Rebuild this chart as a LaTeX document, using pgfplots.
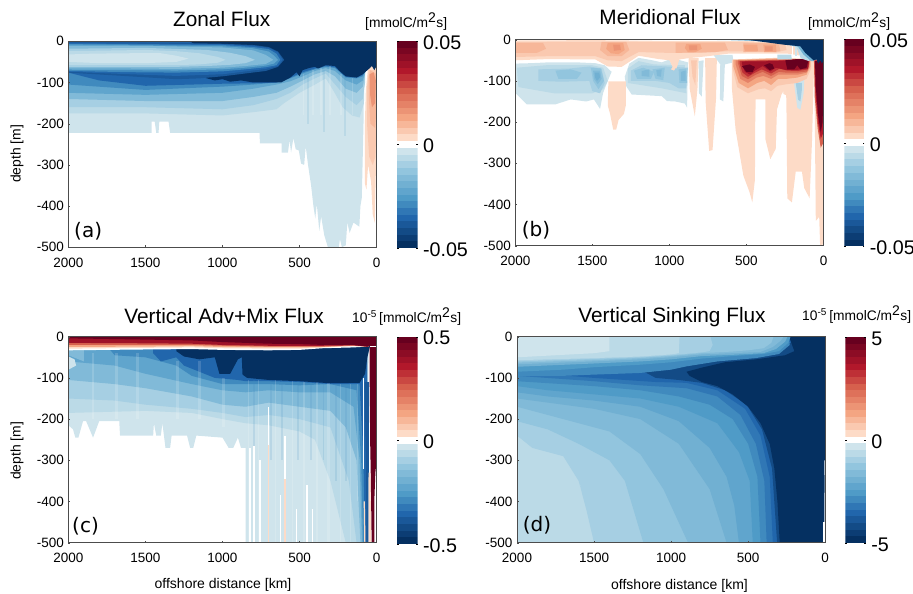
\documentclass[border=0pt]{standalone}
\usepackage{pgfplots}
\pgfplotsset{compat=1.18}
\usepackage{fontspec}
\usepackage{amstext}
\setmainfont{Liberation Sans}
\newfontfamily\dvfont{DejaVu Sans}
\definecolor{B1}{HTML}{CFE4EC}\definecolor{B4}{HTML}{92C5DE}\definecolor{B8}{HTML}{4F9BC7}\definecolor{B11}{HTML}{2166AC}\definecolor{B15}{HTML}{053061}
\definecolor{R1}{HTML}{FDDBC7}\definecolor{R4}{HTML}{F4A582}\definecolor{R8}{HTML}{D6604D}\definecolor{R11}{HTML}{B2182B}\definecolor{R15}{HTML}{67001F}
\colorlet{b1}{B1}\colorlet{b2}{B1!67!B4}\colorlet{b3}{B1!33!B4}\colorlet{b4}{B4}\colorlet{b5}{B4!75!B8}\colorlet{b6}{B4!50!B8}\colorlet{b7}{B4!25!B8}\colorlet{b8}{B8}\colorlet{b9}{B8!67!B11}\colorlet{b10}{B8!33!B11}\colorlet{b11}{B11}\colorlet{b12}{B11!75!B15}\colorlet{b13}{B11!50!B15}\colorlet{b14}{B11!25!B15}\colorlet{b15}{B15}
\colorlet{r1}{R1}\colorlet{r2}{R1!67!R4}\colorlet{r3}{R1!33!R4}\colorlet{r4}{R4}\colorlet{r5}{R4!75!R8}\colorlet{r6}{R4!50!R8}\colorlet{r7}{R4!25!R8}\colorlet{r8}{R8}\colorlet{r9}{R8!67!R11}\colorlet{r10}{R8!33!R11}\colorlet{r11}{R11}\colorlet{r12}{R11!75!R15}\colorlet{r13}{R11!50!R15}\colorlet{r14}{R11!25!R15}\colorlet{r15}{R15}
\newcommand\Pg[2]{\addplot[fill=#1,draw=none,forget plot] coordinates {#2} --cycle;}
\newcommand\St[5]{\addplot[fill=#1,fill opacity=0.15,draw=none,forget plot] coordinates {(#2,#4)(#3,#4)(#3,#5)(#2,#5)} --cycle;}
\newcommand\bd[3]{\addplot[fill=#1,draw=none,forget plot] coordinates {(0,#2)(1,#2)(1,#3)(0,#3)} --cycle;}
\newcommand\cbands{%
\bd{b15}{-31}{-29}\bd{b14}{-29}{-27}\bd{b13}{-27}{-25}\bd{b12}{-25}{-23}\bd{b11}{-23}{-21}\bd{b10}{-21}{-19}\bd{b9}{-19}{-17}\bd{b8}{-17}{-15}\bd{b7}{-15}{-13}\bd{b6}{-13}{-11}\bd{b5}{-11}{-9}\bd{b4}{-9}{-7}\bd{b3}{-7}{-5}\bd{b2}{-5}{-3}\bd{b1}{-3}{-1}\bd{white}{-1}{1}%
\bd{r1}{1}{3}\bd{r2}{3}{5}\bd{r3}{5}{7}\bd{r4}{7}{9}\bd{r5}{9}{11}\bd{r6}{11}{13}\bd{r7}{13}{15}\bd{r8}{15}{17}\bd{r9}{17}{19}\bd{r10}{19}{21}\bd{r11}{21}{23}\bd{r12}{23}{25}\bd{r13}{25}{27}\bd{r14}{27}{29}\bd{r15}{29}{31}}
\pgfplotsset{
 hm/.style={scale only axis,width=308.2pt,height=206pt,x dir=reverse,xmin=0,xmax=2000,ymin=-500,ymax=0,
  xtick={0,500,1000,1500,2000},xticklabels={0,500,1000,1500,2000},
  ytick={-500,-400,-300,-200,-100,0},yticklabels={-500,-400,-300,-200,-100,0},
  tick label style={font=\fontsize{13.5}{15}\selectfont},tick align=inside,major tick length=2pt,
  tick style={black!70},axis line style={black!70,line width=0.7pt},axis on top,
  xtick pos=bottom,ytick pos=left,
  xticklabel style={yshift=-7pt},yticklabel style={xshift=-1pt}},
 cb/.style={scale only axis,width=20.5pt,height=207pt,xmin=0,xmax=1,ymin=-31,ymax=31,xtick=\empty,
  ytick={-31,0,31},yticklabel pos=right,axis line style={draw=none},tick align=inside,major tick length=1.5pt,
  tick style={black},tick label style={font=\fontsize{19.7}{22}\selectfont},
  yticklabel style={yshift=-1.5pt,xshift=2pt},axis on top}}
\newcommand\ttl[3]{\node[anchor=base,font=\fontsize{20.8}{24}\selectfont] at (#1pt,#2pt) {#3};}
\newcommand\unit[3]{\node[anchor=base west,inner sep=0pt,font=\fontsize{13.8}{16}\selectfont] at (#1pt,#2pt) {#3};}
\newcommand\um{[mmolC/m$^{\text{\fontsize{14}{14}\selectfont 2}}$s]}
\newcommand\pl[3]{\node[anchor=base west,inner sep=0pt,font=\dvfont\fontsize{20}{24}\selectfont] at (#1pt,#2pt) {#3};}
\begin{document}
\begin{tikzpicture}[x=1pt,y=1pt]
\path[use as bounding box] (0,0) rectangle (913pt,594pt);
%% ---------- (a) ----------
\begin{axis}[hm,at={(68.4pt,346.7pt)},anchor=south west]
\Pg{b1}{(2000,0)(2000,-222)(1460,-222)(1460,-195)(1440,-195)(1430,-222)(1415,-222)(1410,-195)(1350,-195)(1340,-222)(760,-222)(757,-248)(616,-248)(616,-270)(575,-270)(565,-240)(555,-270)(540,-235)(525,-262)(505,-265)(490,-297)(470,-300)(460,-255)(445,-300)(425,-350)(410,-400)(398,-430)(388,-395)(372,-460)(360,-425)(340,-470)(316,-500)(245,-500)(238,-480)(225,-500)(200,-495)(190,-440)(175,-465)(150,-440)(112,-450)(105,-400)(96,-380)(85,-200)(80,0)}
\Pg{r1}{(70,-120)(76,-200)(76,-345)(66,-360)(55,-300)(36,-340)(25,-420)(12,-440)(4,-300)(0,-200)(0,-60)(55,-60)}
\Pg{r2}{(62,-110)(62,-200)(48,-280)(25,-300)(8,-280)(0,-200)(0,-70)(50,-70)}
\Pg{r3}{(52,-90)(50,-140)(40,-200)(10,-210)(0,-160)(0,-80)(40,-70)}
\Pg{r5}{(45,-80)(42,-130)(30,-160)(10,-150)(5,-95)(20,-75)}
\Pg{b2}{(2000,0)(2000,-175)(1500,-175)(1000,-180)(800,-172)(650,-165)(600,-150)(500,-125)(400,-105)(330,-90)(280,-120)(220,-160)(160,-180)(110,-185)(82,-150)(75,0)}
\Pg{b3}{(2000,0)(2000,-160)(1500,-160)(1000,-165)(800,-155)(650,-140)(560,-125)(480,-105)(400,-90)(330,-78)(280,-100)(200,-135)(130,-155)(90,-140)(75,-100)(75,0)}
\Pg{b5}{(2000,0)(2000,-140)(1500,-145)(1000,-145)(800,-135)(650,-125)(560,-110)(480,-95)(400,-80)(330,-72)(270,-85)(200,-115)(130,-125)(90,-110)(75,-80)(75,0)}
\Pg{b7}{(2000,0)(2000,-125)(1500,-130)(1000,-125)(800,-115)(650,-105)(560,-97)(480,-85)(400,-72)(330,-65)(270,-72)(200,-95)(130,-105)(90,-95)(70,-70)(70,0)}
\Pg{b9}{(2000,0)(2000,-105)(1500,-118)(1000,-110)(800,-105)(650,-100)(560,-90)(480,-78)(400,-68)(330,-62)(270,-65)(200,-88)(130,-90)(90,-85)(60,-60)(60,0)}
\Pg{b11}{(2000,0)(2000,-76)(1800,-95)(1500,-108)(1000,-103)(800,-102)(650,-100)(560,-88)(480,-75)(400,-66)(330,-60)(270,-63)(200,-86)(130,-88)(90,-82)(50,-60)(50,0)}
\St{white}{480}{470}{-80}{-180}\St{white}{420}{405}{-70}{-180}\St{white}{370}{355}{-65}{-180}\St{white}{310}{295}{-60}{-180}\St{white}{240}{225}{-80}{-180}\St{white}{160}{150}{-90}{-180}\St{b8}{450}{440}{-80}{-200}\St{b8}{345}{335}{-70}{-220}\St{b8}{210}{198}{-85}{-230}
\Pg{b15}{(2000,0)(2000,-2)(1200,-2)(1150,-85)(1100,-90)(1050,-95)(1000,-92)(950,-98)(880,-95)(800,-100)(620,-100)(560,-88)(520,-75)(500,-85)(480,-70)(440,-65)(400,-62)(380,-66)(330,-58)(270,-60)(240,-72)(200,-85)(130,-88)(90,-80)(50,-67)(30,-60)(15,-70)(0,-60)(0,0)}
\Pg{b12}{(2000,-3)(1700,-3)(1300,-4)(1150,-5)(1000,-6)(800,-9)(700,-14)(640,-25)(600,-45)(640,-62)(720,-72)(850,-78)(1000,-85)(1150,-90)(1300,-92)(1600,-85)(2000,-76)}
\Pg{b11}{(2000,-4)(1000,-7)(800,-11)(700,-16)(640,-27)(610,-45)(640,-60)(720,-67)(850,-73)(1000,-80)(1300,-84)(1600,-80)(2000,-74)}
\Pg{b9}{(2000,-6)(1000,-9)(800,-14)(700,-19)(650,-30)(625,-45)(650,-58)(720,-63)(850,-68)(1000,-73)(1300,-76)(1600,-75)(2000,-72)}
\Pg{b7}{(2000,-8)(1000,-12)(800,-17)(700,-25)(665,-35)(640,-45)(665,-54)(720,-59)(850,-64)(1000,-68)(1300,-71)(1600,-70)(2000,-69)}
\Pg{b5}{(2000,-12)(1500,-11)(1000,-15)(800,-22)(720,-33)(670,-45)(720,-55)(850,-60)(1000,-64)(1300,-67)(1600,-66)(2000,-66)}
\Pg{b3}{(2000,-18)(1500,-16)(1100,-21)(950,-28)(850,-36)(790,-45)(850,-53)(950,-57)(1100,-60)(1300,-62)(1600,-62)(2000,-62)}
\Pg{b2}{(2000,-24)(1500,-21)(1300,-24)(1150,-29)(1030,-38)(980,-45)(1030,-52)(1150,-56)(1300,-58)(1600,-57)(2000,-58)}
\Pg{b1}{(2000,-32)(1850,-30)(1600,-29)(1400,-29)(1300,-35)(1220,-42)(1300,-50)(1500,-53)(1800,-53)(2000,-50)}
\end{axis}
\begin{axis}[cb,at={(397pt,346pt)},anchor=south west,yticklabels={-0.05,0,0.05}]\cbands\end{axis}
%% ---------- (b) ----------
\begin{axis}[hm,at={(515.3pt,348.3pt)},anchor=south west]
\Pg{b1}{(2000,-58)(1900,-57)(1785,-55)(1600,-55)(1480,-57)(1420,-62)(1375,-78)(1400,-100)(1430,-129)(1450,-168)(1490,-145)(1540,-150)(1640,-145)(1740,-157)(1925,-157)(2000,-129)}
\Pg{b1}{(1290,-90)(1280,-113)(1245,-133)(1050,-137)(1015,-149)(962,-150)(900,-155)(885,-165)(880,-55)(950,-48)(980,-65)(1000,-48)(1050,-55)(1110,-50)(1200,-44)(1260,-58)}
\Pg{b2}{(1990,-68)(1800,-62)(1500,-62)(1430,-68)(1400,-100)(1430,-120)(1500,-130)(1750,-130)(1980,-115)}
\Pg{b2}{(1270,-70)(1200,-52)(1100,-60)(900,-62)(890,-130)(1050,-118)(1270,-105)}
\Pg{b3}{(1850,-72)(1650,-70)(1520,-65)(1440,-70)(1420,-105)(1450,-130)(1500,-125)(1520,-100)(1700,-102)(1850,-100)}
\Pg{b3}{(1250,-75)(1180,-62)(1020,-65)(880,-68)(890,-118)(940,-118)(1000,-105)(1090,-100)(1250,-100)}
\Pg{b4}{(1740,-75)(1640,-72)(1570,-80)(1600,-95)(1720,-95)}
\Pg{b4}{(1510,-68)(1445,-70)(1425,-100)(1460,-120)(1495,-100)}
\Pg{b4}{(1230,-75)(1170,-68)(1100,-78)(1120,-95)(1210,-95)}
\Pg{b4}{(1110,-72)(1030,-68)(1040,-98)(1090,-95)}
\Pg{b4}{(940,-72)(890,-70)(885,-105)(935,-105)}
\Pg{b5}{(1495,-75)(1450,-75)(1440,-95)(1465,-108)(1490,-95)}
\Pg{b5}{(1180,-76)(1130,-72)(1130,-90)(1180,-88)}
\Pg{b5}{(1085,-74)(1050,-72)(1055,-90)(1080,-88)}
\Pg{b5}{(925,-78)(895,-75)(895,-100)(925,-100)}
\Pg{b6}{(1485,-80)(1455,-80)(1450,-92)(1470,-100)(1482,-92)}
\Pg{r1}{(1396,-101)(1283,-101)(1283,-160)(1295,-180)(1330,-195)(1345,-218)(1365,-218)(1385,-180)(1400,-160)}
\Pg{r1}{(960,-55)(990,-72)(970,-75)(945,-60)}
\Pg{r1}{(876,-45)(868,-120)(835,-186)(818,-120)(810,-45)}
\Pg{r2}{(860,-50)(850,-90)(832,-110)(822,-50)}
\Pg{r1}{(768,-45)(765,-150)(742,-270)(720,-268)(697,-140)(692,-45)}
\Pg{b1}{(810,-52)(808,-130)(790,-138)(778,-50)}
\Pg{b1}{(714,-37)(670,-60)(672,-145)(650,-150)(640,-60)(584,-55)(590,-37)}
\Pg{r1}{(594,-50)(594,-120)(570,-220)(520,-330)(480,-370)(462,-395)(445,-340)(443,-200)(440,-145)(378,-145)(378,-240)(345,-290)(310,-265)(302,-170)(270,-130)(242,-135)(240,-180)(235,-385)(205,-395)(180,-320)(140,-320)(125,-360)(90,-385)(75,-250)(60,-50)}
\Pg{r1}{(60,-50)(50,-440)(28,-430)(22,-500)(5,-500)(0,-300)(0,-50)}
\Pg{b1}{(194,-97)(170,-165)(150,-170)(129,-130)(125,-97)}
\Pg{b3}{(180,-105)(165,-145)(150,-150)(140,-120)(140,-105)}
\Pg{white}{(300,-170)(262,-125)(250,-170)(290,-215)}
\Pg{r2}{(590,-70)(560,-115)(490,-130)(420,-120)(380,-118)(340,-125)(300,-112)(240,-108)(170,-105)(110,-95)(80,-70)(80,-47)(300,-44)(590,-48)}
\Pg{r4}{(585,-65)(550,-105)(490,-118)(430,-105)(385,-100)(340,-110)(295,-95)(240,-95)(170,-92)(110,-85)(85,-65)(85,-47)(300,-46)(585,-49)}
\Pg{r6}{(570,-60)(540,-95)(490,-105)(435,-92)(390,-88)(340,-95)(295,-85)(240,-85)(170,-85)(110,-80)(90,-60)(90,-47)(300,-48)(570,-50)}
\Pg{r8}{(555,-57)(530,-88)(490,-96)(440,-85)(395,-78)(340,-88)(290,-78)(240,-80)(170,-80)(105,-77)(92,-55)(92,-47)(300,-49)(555,-51)}
\Pg{r10}{(545,-57)(525,-80)(490,-90)(445,-80)(400,-72)(340,-82)(285,-70)(235,-75)(170,-76)(100,-72)(93,-52)(93,-47)(300,-50)(545,-52)}
\Pg{r12}{(530,-58)(510,-78)(475,-85)(445,-75)(395,-64)(345,-77)(310,-68)(250,-73)(170,-73)(100,-70)(95,-50)(95,-47)(300,-52)(530,-53)}
\Pg{r15}{(530,-64)(500,-78)(460,-78)(445,-66)(480,-60)}
\Pg{r15}{(385,-62)(350,-74)(320,-70)(330,-60)(350,-57)}
\Pg{r15}{(248,-50)(235,-72)(190,-72)(170,-62)(150,-72)(110,-68)(97,-48)(170,-47)}
\Pg{r1}{(2000,-2)(1500,-1)(1000,-3)(800,-3)(500,-3)(300,-6)(240,-10)(150,-16)(160,-38)(230,-34)(300,-34)(500,-34)(620,-34)(750,-40)(880,-45)(935,-48)(955,-70)(980,-65)(1000,-50)(1070,-47)(1200,-39)(1310,-66)(1400,-65)(1480,-48)(1785,-47)(2000,-50)}
\Pg{r2}{(2000,-6)(1500,-5)(1000,-6)(500,-6)(250,-10)(240,-25)(300,-30)(620,-28)(800,-32)(1000,-32)(1200,-30)(1310,-52)(1400,-50)(1480,-40)(1785,-40)(2000,-42)}
\Pg{r3}{(2000,-8)(1820,-8)(1800,-22)(1860,-32)(2000,-32)}
\Pg{r3}{(1440,-5)(1280,-5)(1260,-25)(1310,-40)(1400,-40)(1450,-25)}
\Pg{r3}{(960,-7)(640,-7)(620,-25)(700,-30)(960,-32)}
\Pg{r3}{(520,-8)(290,-8)(280,-28)(520,-30)}
\Pg{r4}{(1400,-8)(1300,-8)(1290,-25)(1330,-35)(1380,-33)(1410,-22)}
\Pg{r4}{(890,-10)(800,-10)(790,-22)(830,-30)(880,-30)(900,-20)}
\Pg{r4}{(520,-12)(430,-12)(425,-28)(510,-28)}
\Pg{r4}{(390,-12)(310,-12)(305,-30)(385,-30)}
\Pg{r5}{(1365,-12)(1320,-12)(1315,-25)(1360,-27)}
\Pg{r5}{(875,-14)(820,-14)(820,-25)(870,-26)}
\Pg{r5}{(380,-16)(330,-16)(330,-27)(378,-28)}
\Pg{white}{(205,-14)(195,-14)(195,-38)(205,-38)}
\Pg{b2}{(300,-36)(210,-36)(205,-48)(300,-48)}
\Pg{b1}{(185,-16)(172,-16)(172,-40)(185,-40)}
\Pg{white}{(1200,0)(800,0)(500,-2)(300,-5)(300,-6)(500,-3)(800,-2)(1200,-1)}
\Pg{b2}{(800,0)(500,-2)(300,-6)(175,-18)(148,-45)(95,-52)(90,-52)(90,0)}
\Pg{b6}{(650,0)(300,-5)(165,-17)(130,-36)(80,-52)(60,-52)(60,0)}
\Pg{r8}{(62,-50)(57,-140)(38,-215)(18,-262)(0,-250)(0,-50)}
\Pg{r11}{(58,-50)(53,-125)(36,-200)(18,-240)(0,-225)(0,-50)}
\Pg{r15}{(55,-52)(50,-115)(34,-186)(18,-225)(6,-200)(0,-120)(0,-52)}
\Pg{b15}{(497,0)(259,-12)(150,-16)(118,-32)(64,-50)(45,-48)(35,-58)(20,-50)(10,-58)(0,-50)(0,0)}
\end{axis}
\begin{axis}[cb,at={(844.3pt,347.7pt)},anchor=south west,width=20pt,yticklabels={-0.05,0,0.05}]\cbands\end{axis}
%% ---------- (c) ----------
\begin{axis}[hm,at={(68.4pt,51.3pt)},anchor=south west]
\Pg{b1}{(2000,-20)(2000,-215)(1970,-225)(1955,-245)(1935,-245)(1905,-205)(1885,-205)(1840,-245)(1800,-205)(1670,-205)(1665,-240)(1450,-240)(1445,-210)(1430,-240)(1400,-240)(1390,-210)(1370,-270)(1340,-270)(1330,-240)(1230,-240)(1210,-270)(1190,-270)(1170,-240)(1000,-245)(960,-270)(930,-270)(900,-245)(880,-270)(850,-270)(850,-500)(70,-500)(50,0)}
\Pg{b2}{(2000,0)(2000,-185)(1500,-180)(1200,-185)(1000,-200)(850,-210)(700,-215)(500,-230)(400,-250)(300,-350)(200,-500)(70,-500)(70,0)}
\Pg{b3}{(2000,0)(2000,-150)(1700,-155)(1500,-165)(1200,-175)(1000,-185)(850,-195)(700,-190)(500,-200)(300,-220)(180,-350)(130,-500)(70,-500)(70,0)}
\Pg{b5}{(2000,0)(2000,-105)(1700,-115)(1500,-125)(1200,-145)(1000,-165)(850,-170)(700,-160)(500,-170)(300,-180)(200,-220)(130,-300)(105,-500)(70,-500)(70,0)}
\Pg{b7}{(2000,0)(2000,-60)(1700,-70)(1500,-90)(1200,-115)(1000,-130)(850,-135)(700,-130)(500,-135)(300,-135)(150,-170)(110,-300)(95,-500)(70,-500)(70,0)}
\Pg{b5}{(2000,0)(2000,-45)(1900,-60)(1900,0)}
\Pg{b1}{(2000,-48)(1960,-55)(1950,-70)(2000,-80)}
\Pg{b9}{(1800,0)(1700,-45)(1500,-50)(1300,-70)(1200,-95)(1000,-115)(850,-115)(700,-115)(500,-118)(300,-115)(130,-130)(100,-300)(88,-500)(70,-500)(70,0)}
\Pg{b11}{(1450,0)(1450,-40)(1400,-60)(1300,-50)(1250,-70)(1150,-85)(1050,-100)(900,-105)(850,-108)(700,-108)(500,-110)(300,-115)(110,-115)(85,-300)(75,-500)(60,-500)(60,0)}
\St{white}{1850}{1835}{-40}{-200}\St{white}{1700}{1680}{-40}{-200}\St{white}{1560}{1540}{-40}{-200}\St{white}{1300}{1280}{-60}{-200}\St{white}{1160}{1140}{-60}{-200}\St{white}{1000}{985}{-100}{-220}
\St{white}{835}{825}{-105}{-500}\St{white}{770}{760}{-105}{-500}\St{white}{660}{650}{-105}{-500}\St{white}{550}{540}{-105}{-500}\St{white}{480}{465}{-110}{-500}\St{white}{390}{380}{-110}{-500}\St{white}{320}{305}{-110}{-500}\St{white}{240}{230}{-115}{-500}\St{white}{175}{165}{-115}{-500}\St{white}{130}{122}{-115}{-400}
\St{b9}{800}{790}{-105}{-300}\St{b9}{690}{680}{-105}{-300}\St{b9}{620}{610}{-105}{-300}\St{b9}{515}{505}{-105}{-300}\St{b9}{430}{420}{-110}{-300}\St{b9}{350}{340}{-110}{-300}\St{b9}{270}{260}{-115}{-350}\St{b9}{205}{195}{-115}{-350}
\Pg{white}{(826,-270)(826,-500)(816,-500)(816,-270)}
\Pg{white}{(800,-265)(800,-500)(786,-500)(786,-265)}
\Pg{white}{(765,-300)(765,-500)(750,-500)(750,-300)}
\Pg{white}{(707,-170)(707,-263)(699,-263)(699,-170)}
\Pg{r1}{(707,-263)(707,-500)(699,-500)(699,-263)}
\Pg{white}{(600,-240)(600,-345)(590,-345)(590,-240)}
\Pg{r1}{(600,-345)(600,-500)(590,-500)(590,-345)}
\Pg{white}{(628,-385)(628,-500)(618,-500)(618,-385)}
\Pg{white}{(525,-417)(525,-500)(515,-500)(515,-417)}
\Pg{white}{(456,-360)(456,-500)(444,-500)(444,-360)}
\Pg{white}{(420,-417)(420,-500)(410,-500)(410,-417)}
\Pg{white}{(89,-101)(89,-320)(85,-320)(85,-101)}
\Pg{b15}{(1300,0)(1300,-35)(1250,-48)(1150,-55)(1050,-50)(1020,-90)(950,-90)(900,-55)(875,-50)(870,-92)(840,-100)(700,-105)(500,-108)(300,-113)(110,-112)(75,-90)(60,-50)(44,-25)(40,0)}
\Pg{b12}{(78,-110)(74,-200)(68,-330)(66,-500)(52,-500)(50,-200)(48,-110)}
\Pg{r1}{(52,-330)(52,-500)(35,-500)(40,-330)}
\Pg{r1}{(84,-400)(80,-500)(72,-500)(76,-400)}
\Pg{r15}{(46,-25)(44,-150)(42,-250)(38,-330)(32,-500)(14,-500)(15,-400)(8,-330)(0,-300)(0,-25)}
\Pg{white}{(2000,0)(2000,-33)(1500,-31)(1200,-30)(1000,-32)(700,-33)(500,-32)(350,-28)(150,-26)(60,-24)(45,-22)(0,-10)(0,0)}
\Pg{r1}{(2000,0)(2000,-29)(1500,-27)(1200,-26)(1000,-28)(700,-29)(500,-29)(350,-26)(150,-23)(60,-24)(45,-22)(0,-22)(0,0)}
\Pg{r4}{(2000,0)(2000,-25)(1500,-24)(1200,-23)(1000,-25)(700,-26)(500,-26)(350,-25)(150,-22)(60,-24)(45,-22)(0,-22)(0,0)}
\Pg{r8}{(2000,0)(2000,-20)(1500,-20)(1200,-20)(1000,-22)(700,-24)(500,-24)(350,-24)(150,-21)(60,-24)(45,-22)(0,-22)(0,0)}
\Pg{r12}{(2000,0)(2000,-15)(1500,-16)(1200,-17)(1000,-20)(700,-22)(500,-22)(350,-22)(150,-21)(60,-24)(45,-22)(0,-22)(0,0)}
\Pg{r15}{(2000,0)(2000,-4)(1500,-7)(1200,-9)(1000,-13)(700,-17)(500,-18)(350,-20)(150,-20)(60,-24)(45,-22)(0,-22)(0,0)}
\Pg{b12}{(6,0)(6,-6)(0,-6)(0,0)}
\end{axis}
\begin{axis}[cb,at={(397pt,50pt)},anchor=south west,height=207.3pt,yticklabels={-0.5,0,0.5}]\cbands\end{axis}
%% ---------- (d) ----------
\begin{axis}[hm,at={(517pt,51.3pt)},anchor=south west]
\Pg{b2}{(2000,0)(2000,-500)(0,-500)(0,0)}
\Pg{b3}{(2000,0)(2000,-240)(1900,-270)(1700,-290)(1600,-350)(1550,-420)(1500,-500)(0,-500)(0,0)}
\Pg{b2}{(1560,-500)(1530,-500)(1590,-360)}
\Pg{b4}{(2000,0)(2000,-205)(1800,-225)(1600,-260)(1400,-300)(1300,-350)(1180,-500)(0,-500)(0,0)}
\Pg{b5}{(2000,0)(2000,-170)(1800,-190)(1600,-210)(1400,-230)(1200,-285)(1050,-370)(890,-500)(0,-500)(0,0)}
\Pg{b6}{(2000,0)(2000,-150)(1800,-160)(1500,-175)(1200,-200)(950,-260)(750,-370)(640,-500)(0,-500)(0,0)}
\Pg{b7}{(2000,0)(2000,-135)(1800,-145)(1500,-155)(1200,-170)(950,-205)(750,-270)(640,-340)(590,-410)(560,-500)(0,-500)(0,0)}
\Pg{b8}{(2000,0)(2000,-120)(1800,-130)(1500,-140)(1200,-150)(950,-170)(700,-210)(560,-280)(490,-350)(470,-500)(0,-500)(0,0)}
\Pg{b9}{(2000,0)(2000,-108)(1500,-120)(1200,-130)(950,-145)(750,-165)(600,-200)(500,-260)(440,-340)(420,-500)(0,-500)(0,0)}
\Pg{b10}{(2000,0)(2000,-95)(1500,-108)(1200,-118)(900,-125)(700,-145)(550,-190)(450,-260)(395,-350)(380,-500)(0,-500)(0,0)}
\Pg{b11}{(2000,0)(2000,-85)(1500,-100)(1100,-110)(900,-112)(700,-130)(520,-175)(420,-240)(360,-340)(340,-500)(0,-500)(0,0)}
\Pg{b13}{(1200,-80)(1100,-100)(950,-105)(800,-112)(650,-130)(510,-165)(410,-225)(345,-320)(312,-500)(0,-500)(0,0)}
\Pg{b15}{(235,0)(215,-20)(200,-35)(260,-45)(450,-55)(650,-62)(800,-75)(900,-85)(880,-95)(800,-110)(700,-120)(600,-140)(500,-170)(420,-210)(360,-260)(330,-320)(310,-400)(295,-500)(0,-500)(0,0)}
\Pg{b9}{(2000,0)(2000,-95)(1700,-95)(1500,-92)(1200,-88)(1000,-80)(900,-72)(700,-60)(450,-52)(300,-42)(230,-20)(235,0)}
\Pg{b8}{(2000,0)(2000,-85)(1700,-80)(1500,-74)(1200,-68)(1000,-62)(800,-53)(600,-47)(400,-42)(300,-35)(240,-15)(225,0)}
\Pg{b6}{(2000,0)(2000,-73)(1500,-65)(1200,-60)(1000,-55)(800,-47)(600,-44)(400,-40)(320,-30)(260,-12)(245,0)}
\Pg{b5}{(2000,0)(2000,-67)(1500,-60)(1200,-55)(1000,-50)(800,-43)(600,-40)(420,-37)(340,-25)(290,-10)(270,0)}
\Pg{b4}{(2000,0)(2000,-63)(1500,-57)(1200,-52)(1000,-47)(800,-40)(600,-36)(500,-33)(400,-28)(350,-15)(335,0)}
\Pg{b3}{(2000,0)(2000,-60)(1500,-54)(1200,-50)(1000,-45)(800,-38)(750,-35)(730,-20)(745,0)}
\Pg{b2}{(2000,0)(2000,-57)(1500,-52)(1200,-48)(1000,-43)(950,-40)(945,0)}
\Pg{b1}{(2000,0)(2000,-50)(1750,-45)(1500,-40)(1400,-35)(1400,0)}
\Pg{white}{(6,-300)(4,-350)(6,-450)(14,-450)(14,-500)(0,-500)(0,-300)}
\end{axis}
\begin{axis}[cb,at={(845.3pt,51pt)},anchor=south west,yticklabels={-5,0,5},height=206pt]\cbands\end{axis}
%% ---------- texts ----------
\ttl{221.7}{567.3}{Zonal Flux}
\ttl{670}{569}{Meridional Flux}
\ttl{224}{270}{Vertical Adv+Mix Flux}
\ttl{672}{271}{Vertical Sinking Flux}
\unit{365}{566}{\um}
\unit{808}{566}{\um}
\unit{352}{271}{10$^{\text{\fontsize{10}{10}\selectfont -5}}$\,\um}
\unit{802}{273}{10$^{\text{\fontsize{10}{10}\selectfont -5}}$\,\um}
\pl{74}{356}{(a)}
\pl{521.7}{357}{(b)}
\pl{72}{61}{(c)}
\pl{522.7}{62}{(d)}
\node[rotate=90,font=\fontsize{13.9}{16}\selectfont] at (17pt,440pt) {depth [m]};
\node[rotate=90,font=\fontsize{13.9}{16}\selectfont] at (17pt,143pt) {depth [m]};
\node[font=\fontsize{14}{16}\selectfont] at (223pt,9pt) {offshore distance [km]};
\node[font=\fontsize{14}{16}\selectfont] at (679.5pt,8.5pt) {offshore distance [km]};
\end{tikzpicture}
\end{document}
